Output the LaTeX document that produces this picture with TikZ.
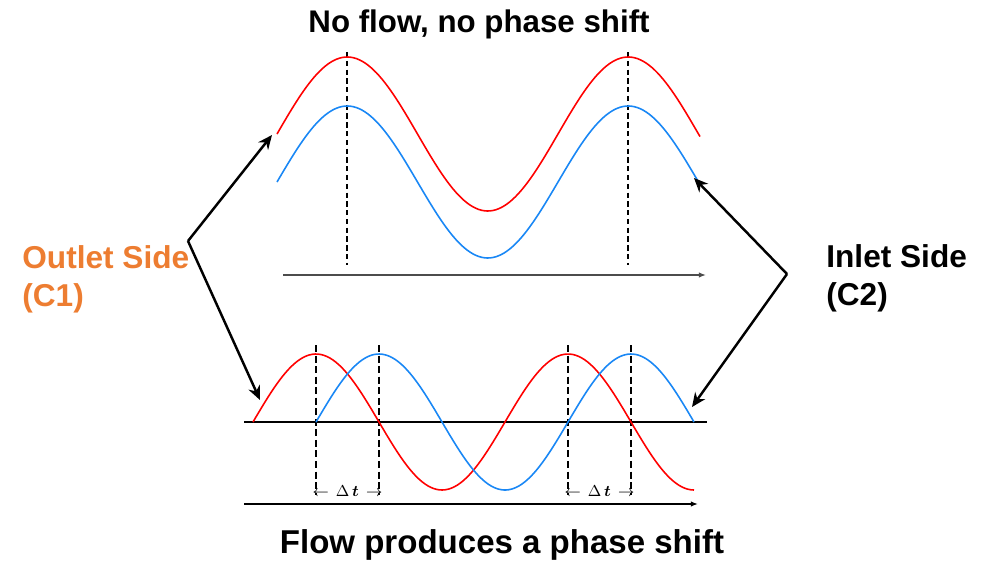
\documentclass[tikz,border=0pt]{standalone}
\usepackage{amsmath}
\usepackage{fontspec}
\setmainfont{Liberation Sans}
\usetikzlibrary{arrows.meta}

\definecolor{outletorange}{RGB}{237,125,49}
\definecolor{waveblue}{RGB}{25,135,245}

\begin{document}
\begin{tikzpicture}[
        x=0.02cm, y=-0.02cm,
        outwave/.style={draw=red, line width=0.9pt},
        inwave/.style={draw=waveblue, line width=0.9pt},
        guide/.style={dashed, dash pattern=on 3pt off 2pt, line width=0.6pt},
        shiftguide/.style={dashed, dash pattern=on 4pt off 2pt, line width=0.9pt},
        timeaxis/.style={-{Latex[length=4pt, width=3pt]}, line width=0.7pt},
        pointer/.style={-{Stealth[length=8pt, width=7pt]}, line width=1.4pt},
        title/.style={font=\bfseries\fontsize{17.8}{21}\selectfont, inner sep=0pt},
        sidelabel/.style={font=\bfseries\fontsize{18}{21.5}\selectfont, align=left, inner sep=0pt},
        shiftlabel/.style={font=\fontsize{9.5}{11}\selectfont, inner sep=0pt}
    ]
        \useasboundingbox (0,0) rectangle (994,565);

        % top: no flow
        \node[title, anchor=base] (noflow) at (479,32) {No flow, no phase shift};
        \foreach \xpos in {347,628}
            \draw[guide] (\xpos,52) -- (\xpos,265);
        \draw[outwave] plot[domain=277:700, samples=150] (\x, {134-77*sin(((\x-277)/281)*360)});
        \draw[inwave] plot[domain=277:700, samples=150] (\x, {182-76*sin(((\x-277)/281)*360)});
        \draw[timeaxis, draw=black!70] (283,275) -- (706,275);

        % bottom: flow
        \foreach \xpos in {316,379,568,631}
            \draw[shiftguide] (\xpos,345) -- (\xpos,495);
        \draw[line width=0.7pt] (244,422) -- (707,422);
        \draw[outwave] plot[domain=253:694, samples=150] (\x, {422-68*sin(((\x-253)/252)*360)});
        \draw[inwave] plot[domain=316:694, samples=150] (\x, {422-68*sin(((\x-316)/252)*360)});
        \node[shiftlabel] (dt1) at (347.5,491) {$\leftarrow\,\Delta\,\boldsymbol{t}\,\rightarrow$};
        \node[shiftlabel] (dt2) at (599.5,491) {$\leftarrow\,\Delta\,\boldsymbol{t}\,\rightarrow$};
        \draw[timeaxis] (244,504) -- (698,504);
        \node[title, font=\bfseries\fontsize{18.8}{22}\selectfont, anchor=base] (flow) at (502,553) {Flow produces a phase shift};

        % sides
        \node[sidelabel, text=outletorange, anchor=north west] (outlet) at (22,245) {Outlet Side\\(C1)};
        \node[sidelabel, anchor=north west] (inlet) at (826,244) {Inlet Side\\(C2)};

        \coordinate (outlet fork) at (188,241);
        \coordinate (outlet top) at (272,135);
        \coordinate (outlet bottom) at (260,400);
        \coordinate (inlet fork) at (787,274);
        \coordinate (inlet top) at (694,178);
        \coordinate (inlet bottom) at (692,407);

        \draw[pointer] (outlet fork) -- (outlet top);
        \draw[pointer] (outlet fork) -- (outlet bottom);
        \draw[pointer] (inlet fork) -- (inlet top);
        \draw[pointer] (inlet fork) -- (inlet bottom);
    \end{tikzpicture}
\end{document}
